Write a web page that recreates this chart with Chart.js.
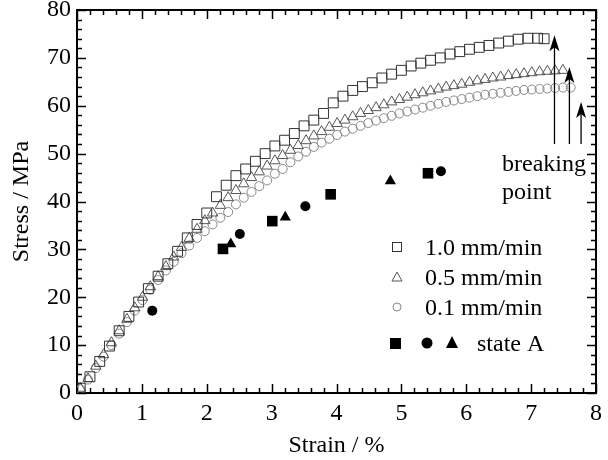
<!DOCTYPE html>
<html>
<head>
<meta charset="utf-8">
<script src="https://cdn.jsdelivr.net/npm/chart.js@4.4.0/dist/chart.umd.min.js"></script>
<style>
  html, body { margin: 0; padding: 0; background: #fff; }
  #wrap { width: 608px; height: 460px; }
</style>
</head>
<body>
<div id="wrap"><canvas id="c" width="608" height="460"></canvas></div>
<script>
// 1.0 mm/min (open squares)
var sqX = [0.05,0.2,0.35,0.5,0.65,0.8,0.95,1.1,1.25,1.4,1.55,1.7,1.85,2.0,2.15,2.3,2.45,2.6,2.75,2.9,3.05,3.2,3.35,3.5,3.65,3.8,3.95,4.1,4.25,4.4,4.55,4.7,4.85,5.0,5.15,5.3,5.45,5.6,5.75,5.9,6.05,6.2,6.35,6.5,6.65,6.8,6.95,7.1,7.2]
var sqY = [1.0,3.4,6.6,9.8,13.0,16.0,19.0,21.8,24.4,27.0,29.6,32.4,35.2,37.6,41.0,43.4,45.4,46.8,48.4,50.0,51.6,52.8,54.2,55.8,57.0,58.4,60.6,62.0,63.2,64.0,64.8,65.8,66.6,67.4,68.3,68.9,69.5,70.0,70.8,71.3,71.8,72.2,72.6,73.1,73.5,73.9,74.1,74.1,74.0]

// 0.5 mm/min (open triangles)
var triX = [0.05,0.17,0.29,0.41,0.53,0.65,0.77,0.89,1.01,1.13,1.25,1.37,1.49,1.61,1.73,1.85,1.97,2.09,2.21,2.33,2.45,2.57,2.69,2.81,2.93,3.05,3.17,3.29,3.41,3.53,3.65,3.77,3.89,4.01,4.13,4.25,4.37,4.49,4.61,4.73,4.85,4.97,5.09,5.21,5.33,5.45,5.57,5.69,5.81,5.93,6.05,6.17,6.29,6.41,6.53,6.65,6.77,6.89,7.01,7.13,7.25,7.37,7.49]
var triY = [1.0,3.0,5.6,8.0,10.5,13.0,15.4,17.8,20.0,22.2,24.3,26.4,28.4,30.4,32.3,34.2,36.0,37.6,39.2,40.8,42.3,43.7,45.0,46.2,47.4,48.5,49.6,50.7,51.7,52.7,53.7,54.6,55.5,56.3,57.0,57.7,58.4,59.0,59.6,60.2,60.8,61.3,61.8,62.3,62.7,63.1,63.5,63.9,64.2,64.5,64.9,65.2,65.5,65.8,66.0,66.3,66.5,66.7,66.9,67.1,67.2,67.3,67.4]

// 0.1 mm/min (open circles)
var cirX = [0.05,0.17,0.29,0.41,0.53,0.65,0.77,0.89,1.01,1.13,1.25,1.37,1.49,1.61,1.73,1.85,1.97,2.09,2.21,2.33,2.45,2.57,2.69,2.81,2.93,3.05,3.17,3.29,3.41,3.53,3.65,3.77,3.89,4.01,4.13,4.25,4.37,4.49,4.61,4.73,4.85,4.97,5.09,5.21,5.33,5.45,5.57,5.69,5.81,5.93,6.05,6.17,6.29,6.41,6.53,6.65,6.77,6.89,7.01,7.13,7.25,7.37,7.49,7.61]
var cirY = [0.8,2.8,5.2,7.6,10.0,12.4,14.8,17.2,19.4,21.6,23.6,25.6,27.4,29.2,30.8,32.4,33.8,35.2,36.6,37.8,39.4,40.8,42.0,43.2,44.4,45.8,46.8,48.2,49.4,50.4,51.4,52.3,53.1,53.9,54.6,55.2,55.8,56.4,56.9,57.4,57.9,58.4,58.8,59.2,59.6,60.0,60.4,60.8,61.1,61.4,61.7,62.0,62.3,62.5,62.7,62.9,63.1,63.3,63.4,63.5,63.6,63.7,63.8,63.8]

// state A (filled markers)
var aSqX = [2.25, 3.01, 3.91, 5.41]
var aSqY = [30.1, 35.9, 41.5, 45.9]
var aCirX = [1.16, 2.51, 3.52, 5.61]
var aCirY = [17.2, 33.2, 39.0, 46.3]
var aTriX = [2.37, 3.21, 4.83]
var aTriY = [31.1, 36.7, 44.3]

// breaking point arrows
var arrowX = [7.36, 7.59, 7.77]
var arrowFrom = [52, 52, 52]
var arrowTo = [74.7, 68.1, 60.8]

var legendLabels = ["1.0 mm/min", "0.5 mm/min", "0.1 mm/min", "state A"]

function pts(xs, ys) {
    return xs.map(function (x, i) { return { x: x, y: ys[i] }; });
}

var serif = "'Liberation Serif', 'DejaVu Serif', serif";

// frame with inward major/minor ticks on all four sides
var framePlugin = {
    id: 'frame',
    beforeDatasetsDraw: function (chart) {
        var ctx = chart.ctx, a = chart.chartArea;
        var xs = chart.scales.x, ys = chart.scales.y;
        ctx.save();
        ctx.strokeStyle = '#000';
        ctx.lineWidth = 1.5;
        var v, px, len;
        for (v = 0; v <= 8.001; v += 0.2) {
            px = Math.round(xs.getPixelForValue(v)) + 0.5;
            len = Math.abs(v - Math.round(v)) < 0.01 ? 9 : 5;
            ctx.beginPath();
            ctx.moveTo(px, a.bottom); ctx.lineTo(px, a.bottom - len);
            ctx.moveTo(px, a.top); ctx.lineTo(px, a.top + len);
            ctx.stroke();
        }
        for (v = 0; v <= 80.001; v += 2) {
            px = Math.round(ys.getPixelForValue(v)) + 0.5;
            len = (Math.round(v) % 10 === 0) ? 9 : 5;
            ctx.beginPath();
            ctx.moveTo(a.left, px); ctx.lineTo(a.left + len, px);
            ctx.moveTo(a.right, px); ctx.lineTo(a.right - len, px);
            ctx.stroke();
        }
        ctx.lineWidth = 2;
        ctx.strokeRect(a.left, a.top, a.right - a.left, a.bottom - a.top);
        ctx.restore();
    }
};

// arrows, "breaking point" text and the legend box
var notesPlugin = {
    id: 'notes',
    afterDatasetsDraw: function (chart) {
        var ctx = chart.ctx;
        var xs = chart.scales.x, ys = chart.scales.y;
        ctx.save();
        ctx.strokeStyle = '#000';
        ctx.fillStyle = '#000';
        ctx.lineWidth = 1.3;
        arrowX.forEach(function (ax, i) {
            var x = xs.getPixelForValue(ax);
            var y0 = ys.getPixelForValue(arrowFrom[i]);
            var y1 = ys.getPixelForValue(arrowTo[i]);
            ctx.beginPath();
            ctx.moveTo(x, y0); ctx.lineTo(x, y1 + 6);
            ctx.stroke();
            ctx.beginPath();
            ctx.moveTo(x, y1);
            ctx.lineTo(x - 5, y1 + 16);
            ctx.lineTo(x, y1 + 12);
            ctx.lineTo(x + 5, y1 + 16);
            ctx.closePath();
            ctx.fill();
        });

        ctx.font = '24px ' + serif;
        ctx.textBaseline = 'alphabetic';
        ctx.textAlign = 'left';
        ctx.fillText('breaking', 502, 171);
        ctx.fillText('point', 502, 199);

        // legend
        var rowY = [247, 277, 307, 343];
        ctx.lineWidth = 1;
        ctx.strokeStyle = '#333';
        ctx.strokeRect(392.5, 242.5, 9, 9);
        ctx.strokeStyle = '#555';
        ctx.beginPath();
        ctx.moveTo(397, 272); ctx.lineTo(402, 281); ctx.lineTo(392, 281); ctx.closePath();
        ctx.stroke();
        ctx.strokeStyle = '#888';
        ctx.beginPath();
        ctx.arc(397, 307, 4, 0, Math.PI * 2);
        ctx.stroke();
        ctx.fillRect(390, 338, 11, 11);
        ctx.beginPath();
        ctx.arc(427, 343, 5.5, 0, Math.PI * 2);
        ctx.fill();
        ctx.beginPath();
        ctx.moveTo(452, 336); ctx.lineTo(458, 348); ctx.lineTo(446, 348); ctx.closePath();
        ctx.fill();

        ctx.font = '24px ' + serif;
        ctx.fillText(legendLabels[0], 425, rowY[0] + 8);
        ctx.fillText(legendLabels[1], 425, rowY[1] + 8);
        ctx.fillText(legendLabels[2], 425, rowY[2] + 8);
        ctx.fillText(legendLabels[3], 477, rowY[3] + 8);
        ctx.restore();
    }
};

new Chart(document.getElementById('c'), {
    type: 'scatter',
    data: {
        datasets: [{
            label: legendLabels[0],
            data: pts(sqX, sqY),
            pointStyle: 'rect',
            pointRadius: 7,
            borderColor: '#333',
            backgroundColor: 'rgba(0,0,0,0)',
            borderWidth: 1
        }, {
            label: legendLabels[1],
            data: pts(triX, triY),
            pointStyle: 'triangle',
            pointRadius: 6,
            borderColor: '#555',
            backgroundColor: 'rgba(0,0,0,0)',
            borderWidth: 1
        }, {
            label: legendLabels[2],
            data: pts(cirX, cirY),
            pointStyle: 'circle',
            pointRadius: 4.5,
            borderColor: '#888',
            backgroundColor: 'rgba(0,0,0,0)',
            borderWidth: 1
        }, {
            label: 'state A',
            data: pts(aSqX, aSqY),
            pointStyle: 'rect',
            pointRadius: 7.5,
            borderColor: '#000',
            backgroundColor: '#000',
            borderWidth: 0
        }, {
            label: 'state A',
            data: pts(aCirX, aCirY),
            pointStyle: 'circle',
            pointRadius: 5,
            borderColor: '#000',
            backgroundColor: '#000',
            borderWidth: 0
        }, {
            label: 'state A',
            data: pts(aTriX, aTriY),
            pointStyle: 'triangle',
            pointRadius: 6.5,
            borderColor: '#000',
            backgroundColor: '#000',
            borderWidth: 0
        }]
    },
    options: {
        responsive: false,
        animation: false,
        layout: { padding: { top: 10, right: 6, left: 0, bottom: 0 } },
        plugins: {
            legend: { display: false },
            tooltip: { enabled: false }
        },
        scales: {
            x: {
                type: 'linear',
                min: 0, max: 8,
                grid: { display: false, drawTicks: false },
                border: { display: false },
                ticks: { stepSize: 1, color: '#000', font: { family: serif, size: 24 }, padding: 6, maxRotation: 0 },
                title: { display: true, text: 'Strain / %', color: '#000', font: { family: serif, size: 24 }, padding: { top: 0, bottom: 0 } },
                afterFit: function (s) { s.height = 67; }
            },
            y: {
                type: 'linear',
                min: 0, max: 80,
                grid: { display: false, drawTicks: false },
                border: { display: false },
                ticks: { stepSize: 10, color: '#000', font: { family: serif, size: 24, lineHeight: 0.3 }, padding: 6 },
                title: { display: true, text: 'Stress / MPa', color: '#000', font: { family: serif, size: 24 }, padding: { top: 7, bottom: 0 } },
                afterFit: function (s) { s.width = 77; }
            }
        }
    },
    plugins: [framePlugin, notesPlugin]
});
</script>
</body>
</html>
